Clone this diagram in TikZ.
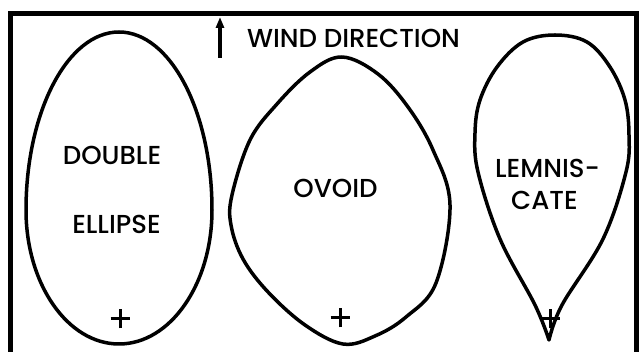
\documentclass[tikz,border=0pt]{standalone}
\usepackage{fontspec}
\setmainfont{Poppins}
\newfontfamily\lblfont{Poppins Medium}
\usetikzlibrary{arrows.meta}
\tikzset{
  frameline/.style={line width=5.5pt, line cap=rect},
  outline/.style={line width=3.5pt, line join=round},
  lbl/.style={font=\fontsize{26}{26}\lblfont, anchor=base, inner sep=0pt},
  plusmark/.style={line width=3pt},
}
\begin{document}
\begin{tikzpicture}[x=1pt,y=-1pt]
\useasboundingbox (0,0) rectangle (641,352);
% frame (open at the bottom)
\draw[frameline] (10.7,352) -- (10.7,13.3) -- (636.5,13.3) -- (636.5,352);
% wind arrow and label
\coordinate (wtail) at (220,58);
\coordinate (whead) at (220,17);
\draw[line width=3.6pt, -{Triangle[length=11pt,width=8pt]}] (wtail) -- (whead);
\node[lbl] (wind) at (353.5,48) {WIND DIRECTION};
% double ellipse: two half ellipses sharing the horizontal axis
\coordinate (de) at (119,210);
\draw[outline] ([xshift=93pt]de) arc[start angle=0, end angle=180, x radius=93, y radius=134]
  arc[start angle=180, end angle=360, x radius=93, y radius=178] -- cycle;
\node[lbl] (dbl) at (112,165) {DOUBLE};
\node[lbl] (ell) at (116.5,234) {ELLIPSE};
% ovoid
\draw[outline] plot[smooth cycle, tension=0.6] coordinates {
 (342,57) (378,74) (408,107) (433,150) (450,205) (436,283) (406,317) (375,336) (343,344)
 (305,325) (268,292) (243,259) (231,225) (232,195) (250,140) (277,104) (310,72)};
\node[lbl] (ovo) at (335.5,198) {OVOID};
% lemniscate
\draw[outline] (549,340) -- plot[smooth, tension=0.6] coordinates {
 (549,340) (535,305) (500,239) (478,172) (475,133) (480,100) (497,67) (523,42) (555,35)
 (587,42) (610,67) (625,100) (629,135) (626,172) (603,239) (562,305) (549,340)} -- cycle;
\node[lbl] (lem) at (547.5,178) {LEMNIS-};
\node[lbl] (cat) at (544.5,210) {CATE};
% plus marks
\foreach \n/\px/\py in {p1/120/319, p2/340/318, p3/550/319}{
  \coordinate (\n) at (\px,\py);
  \draw[plusmark] ([xshift=-9.5pt]\n) -- ([xshift=9.5pt]\n);
  \draw[plusmark] ([yshift=-9.5pt]\n) -- ([yshift=9.5pt]\n);
}
\end{tikzpicture}
\end{document}
